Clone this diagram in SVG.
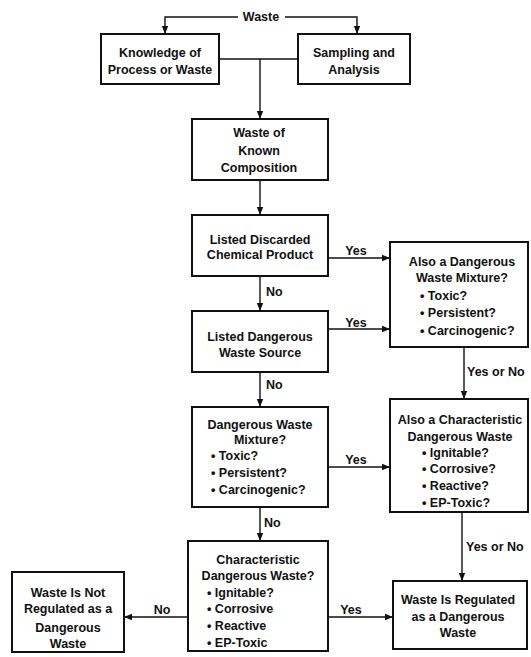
<svg xmlns="http://www.w3.org/2000/svg" width="531" height="657" viewBox="0 0 531 657">
<defs>
<marker id="ah" markerUnits="userSpaceOnUse" markerWidth="8" markerHeight="8" viewBox="0 0 8 8" refX="8" refY="4" orient="auto">
<path d="M0,0.8 L8,4 L0,7.2 Z" fill="#111"/>
</marker>
</defs>
<style>
.box{fill:#fff;stroke:#111;stroke-width:2}
.ln{fill:none;stroke:#111;stroke-width:1.4}
.ar{fill:none;stroke:#111;stroke-width:1.4;marker-end:url(#ah)}
text{font-family:"Liberation Sans",Arial,sans-serif;font-size:12.5px;font-weight:bold;fill:#111}
.c{text-anchor:middle}
</style>
<rect width="531" height="657" fill="#fff"/>
<g id="connectors">
<polyline class="ar" points="238,17 165,17 165,34"/>
<polyline class="ar" points="285,17 357,17 357,34"/>
<line class="ln" x1="219" y1="59" x2="298" y2="59"/>
<line class="ar" x1="260" y1="59" x2="260" y2="119"/>
<line class="ar" x1="260" y1="180" x2="260" y2="215"/>
<line class="ar" x1="328" y1="258" x2="390" y2="258"/>
<line class="ar" x1="260" y1="276" x2="260" y2="311"/>
<line class="ar" x1="328" y1="329" x2="390" y2="329"/>
<line class="ar" x1="464" y1="347" x2="464" y2="399"/>
<line class="ar" x1="260" y1="372" x2="260" y2="407"/>
<line class="ar" x1="328" y1="467" x2="390" y2="467"/>
<line class="ar" x1="260" y1="507" x2="260" y2="541"/>
<line class="ar" x1="462" y1="512" x2="462" y2="581"/>
<line class="ar" x1="328" y1="617" x2="393" y2="617"/>
<line class="ar" x1="188" y1="617" x2="124" y2="617"/>
<text class="c" x="261" y="21">Waste</text>
<text class="c" x="356" y="255">Yes</text>
<text x="266" y="296">No</text>
<text class="c" x="356" y="327">Yes</text>
<text x="467" y="376">Yes or No</text>
<text x="266" y="389">No</text>
<text class="c" x="356" y="464">Yes</text>
<text x="264" y="527">No</text>
<text x="466" y="551">Yes or No</text>
<text class="c" x="351" y="614">Yes</text>
<text class="c" x="162" y="614">No</text>
</g>
<g id="knowledge">
<rect class="box" x="101" y="34" width="118" height="50"/>
<text class="c" x="160" y="57">Knowledge of</text>
<text class="c" x="160" y="74">Process or Waste</text>
</g>
<g id="sampling">
<rect class="box" x="298" y="34" width="112" height="50"/>
<text class="c" x="354" y="57">Sampling and</text>
<text class="c" x="354" y="74">Analysis</text>
</g>
<g id="known">
<rect class="box" x="192" y="119" width="136" height="61"/>
<text class="c" x="259" y="137">Waste of</text>
<text class="c" x="259" y="155">Known</text>
<text class="c" x="259" y="172">Composition</text>
</g>
<g id="listed-product">
<rect class="box" x="192" y="215" width="136" height="61"/>
<text class="c" x="260" y="244">Listed Discarded</text>
<text class="c" x="260" y="259">Chemical Product</text>
</g>
<g id="also-mixture">
<rect class="box" x="390" y="242" width="138" height="105"/>
<text class="c" x="462" y="266">Also a Dangerous</text>
<text class="c" x="462" y="282">Waste Mixture?</text>
<text x="420" y="300">• Toxic?</text>
<text x="420" y="317">• Persistent?</text>
<text x="420" y="335">• Carcinogenic?</text>
</g>
<g id="listed-source">
<rect class="box" x="192" y="311" width="136" height="61"/>
<text class="c" x="260" y="341">Listed Dangerous</text>
<text class="c" x="260" y="357">Waste Source</text>
</g>
<g id="mixture">
<rect class="box" x="192" y="407" width="136" height="100"/>
<text class="c" x="260" y="429">Dangerous Waste</text>
<text class="c" x="260" y="444">Mixture?</text>
<text x="211" y="460">• Toxic?</text>
<text x="211" y="477">• Persistent?</text>
<text x="211" y="494">• Carcinogenic?</text>
</g>
<g id="also-characteristic">
<rect class="box" x="390" y="399" width="138" height="113"/>
<text class="c" x="460" y="424">Also a Characteristic</text>
<text class="c" x="460" y="441">Dangerous Waste</text>
<text x="422" y="457">• Ignitable?</text>
<text x="422" y="473">• Corrosive?</text>
<text x="422" y="490">• Reactive?</text>
<text x="422" y="507">• EP-Toxic?</text>
</g>
<g id="characteristic">
<rect class="box" x="188" y="541" width="140" height="110"/>
<text class="c" x="258" y="564">Characteristic</text>
<text class="c" x="258" y="580">Dangerous Waste?</text>
<text x="207" y="597">• Ignitable?</text>
<text x="207" y="613">• Corrosive</text>
<text x="207" y="630">• Reactive</text>
<text x="207" y="647">• EP-Toxic</text>
</g>
<g id="not-regulated">
<rect class="box" x="12" y="572" width="112" height="80"/>
<text class="c" x="68" y="597">Waste Is Not</text>
<text class="c" x="68" y="613">Regulated as a</text>
<text class="c" x="68" y="632">Dangerous</text>
<text class="c" x="68" y="648">Waste</text>
</g>
<g id="regulated">
<rect class="box" x="393" y="581" width="134" height="68"/>
<text class="c" x="458" y="604">Waste Is Regulated</text>
<text class="c" x="458" y="621">as a Dangerous</text>
<text class="c" x="458" y="637">Waste</text>
</g>
</svg>
